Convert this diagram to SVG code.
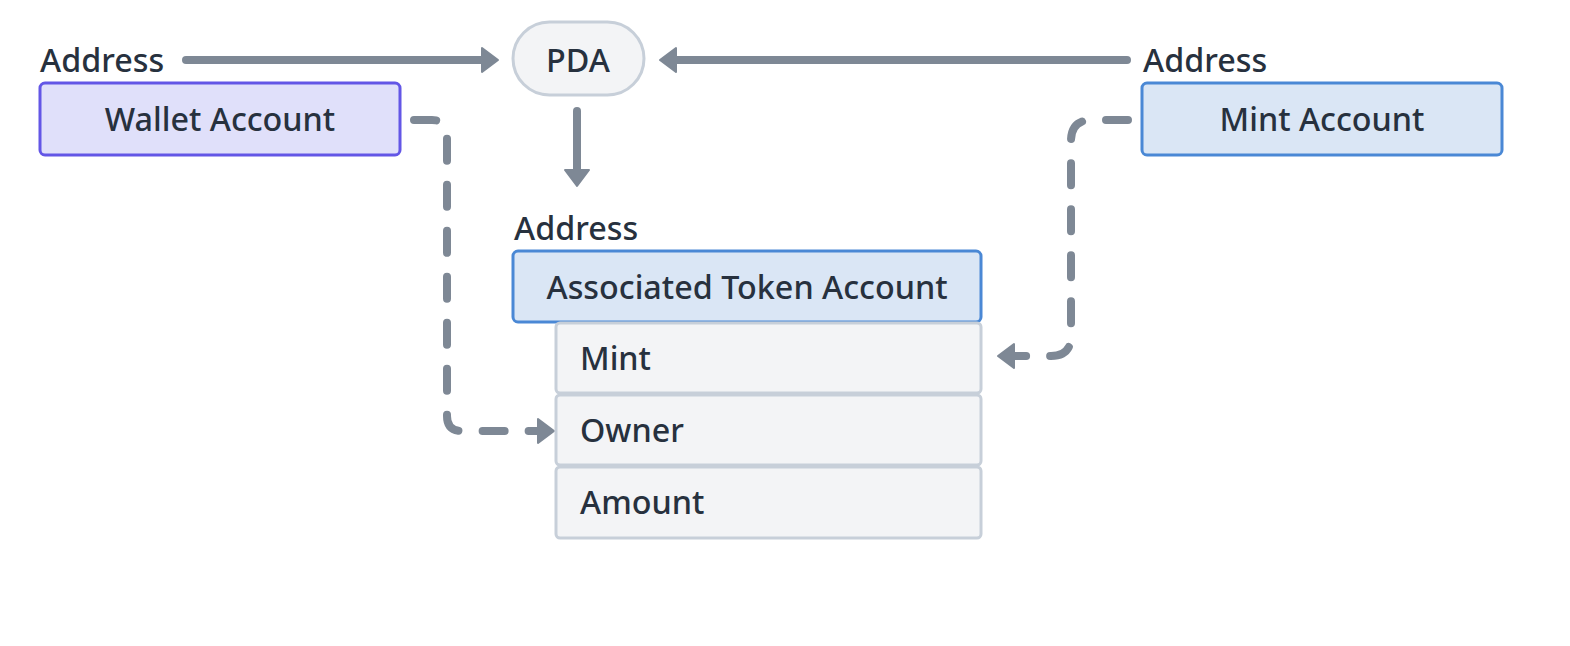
<svg xmlns="http://www.w3.org/2000/svg" width="1570" height="646" viewBox="0 0 1570 646">
<style>
text{font-family:"Noto Sans","Open Sans",sans-serif;font-size:32.3px;font-weight:500;fill:#27313e}
.c{text-anchor:middle}
.wallet{fill:#e0e0fa;stroke:#6356e6;stroke-width:3}
.blue{fill:#dae6f5;stroke:#4a88d5;stroke-width:3}
.gray{fill:#f3f4f6;stroke:#c7cfd9;stroke-width:3}
.line{fill:none;stroke:#7e8895;stroke-width:8;stroke-linecap:round}
.dash{stroke-dasharray:22 24}
</style>
<defs>
<marker id="ah" markerUnits="userSpaceOnUse" viewBox="0 0 20 28" markerWidth="20" markerHeight="28" refX="2" refY="14" orient="auto">
<path d="M2,2 L18,14 L2,26 z" fill="#7e8895" stroke="#7e8895" stroke-width="2" stroke-linejoin="round"/>
</marker>
</defs>
<rect width="1570" height="646" fill="#ffffff"/>
<g id="connectors">
<path class="line" d="M186 60 H482" marker-end="url(#ah)"/>
<path class="line" d="M1127 60 H676" marker-end="url(#ah)"/>
<path class="line" d="M577 111 V170" marker-end="url(#ah)"/>
<path class="line dash" d="M414 120 H432 Q447 120 447 135 V416 Q447 431 462 431 H538" marker-end="url(#ah)"/>
<path class="line dash" d="M1128 120 H1092 Q1071 120 1071 141 V336 Q1071 356 1051 356 H1014" marker-end="url(#ah)"/>
</g>
<g id="wallet">
<text x="40" y="72">Address</text>
<rect class="wallet" x="40" y="83" width="360" height="72" rx="5"/>
<text class="c" x="220" y="131">Wallet Account</text>
</g>
<g id="pda">
<rect class="gray" x="513" y="22" width="131" height="73" rx="36.5"/>
<text class="c" x="578" y="72">PDA</text>
</g>
<g id="mint">
<text x="1143" y="72">Address</text>
<rect class="blue" x="1142" y="83" width="360" height="72" rx="5"/>
<text class="c" x="1322" y="131">Mint Account</text>
</g>
<g id="ata">
<text x="514" y="240">Address</text>
<rect class="blue" x="513" y="251" width="468" height="71" rx="5"/>
<text class="c" x="747" y="299">Associated Token Account</text>
</g>
<g id="field-mint">
<rect class="gray" x="556" y="323" width="425" height="70" rx="4"/>
<text x="580" y="370">Mint</text>
</g>
<g id="field-owner">
<rect class="gray" x="556" y="395" width="425" height="70" rx="4"/>
<text x="580" y="442">Owner</text>
</g>
<g id="field-amount">
<rect class="gray" x="556" y="467" width="425" height="71" rx="4"/>
<text x="580" y="514">Amount</text>
</g>
</svg>
